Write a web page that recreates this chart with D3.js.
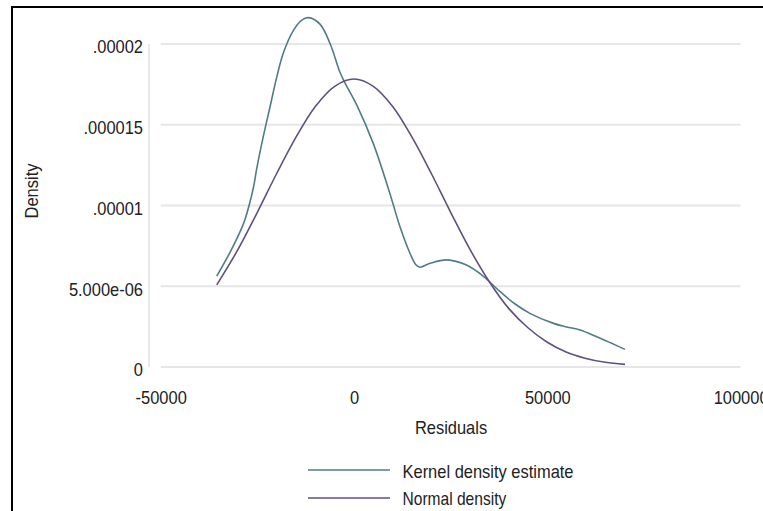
<!DOCTYPE html>
<html>
<head>
<meta charset="utf-8">
<script src="https://cdn.jsdelivr.net/npm/d3@7"></script>
<style>
  html, body { margin: 0; padding: 0; background: #fff; }
  svg { display: block; }
  text { font-family: "Liberation Sans", Arial, sans-serif; fill: #222; }
</style>
</head>
<body>
<svg id="chart" width="763" height="511"></svg>
<script>
// Residuals (x) and estimated density (y)
const kernelX = [-35500, -32000, -29000, -28200, -26000, -25200, -23500, -21700, -20000, -18300,
                 -15700, -13500, -11800, -8800, -6200, -3600, -2300, 700, 5000, 9300,
                 11900, 14500, 16000, 17100, 19700, 24000, 29100, 33400, 37800, 41500,
                 45500, 51600, 55000, 58500, 62800, 66500, 70100];
const kernelY = [5.6e-6, 7.1e-6, 8.6e-6, 9.1e-6, 1.11e-5, 1.22e-5, 1.42e-5, 1.61e-5, 1.79e-5, 1.94e-5,
                 2.08e-5, 2.145e-5, 2.16e-5, 2.12e-5, 2.0e-5, 1.82e-5, 1.755e-5, 1.62e-5, 1.38e-5, 1.07e-5,
                 8.65e-6, 7.0e-6, 6.3e-6, 6.15e-6, 6.39e-6, 6.6e-6, 6.28e-6, 5.6e-6, 4.63e-6, 3.9e-6,
                 3.29e-6, 2.67e-6, 2.45e-6, 2.26e-6, 1.84e-6, 1.45e-6, 1.06e-6];

const normalX = [-35500, -30000, -25000, -20000, -15000, -10000, -5000, 0, 5000, 10000, 15000,
                 20000, 25000, 30000, 35000, 40000, 45000, 50000, 55000, 60000, 65000, 70100];
const normalY = [5.05e-6, 7.25e-6, 9.55e-6, 1.195e-5, 1.42e-5, 1.61e-5, 1.735e-5, 1.78e-5, 1.735e-5, 1.61e-5, 1.42e-5,
                 1.195e-5, 9.55e-6, 7.25e-6, 5.25e-6, 3.6e-6, 2.4e-6, 1.5e-6, 8.8e-7, 5e-7, 2.6e-7, 1.3e-7];

const xTickValues = [-50000, 0, 50000, 100000];
const xTickLabels = ["-50000", "0", "50000", "100000"];
const yTickValues = [0, 5e-6, 1e-5, 1.5e-5, 2e-5];
const yTickLabels = ["0", "5.000e-06", ".00001", ".000015", ".00002"];

const seriesNames = ["Kernel density estimate", "Normal density"];
const seriesColors = ["#4f7d86", "#5f5080"];

const FONT = 18.5;      // glyph height
const SQUEEZE = 0.89;   // horizontal condensing of labels

const svg = d3.select("#chart");

const x = d3.scaleLinear().domain([-50000, 100000]).range([160.7, 740.6]);
const y = d3.scaleLinear().domain([0, 2e-5]).range([366.5, 43.5]);

// turn x/y placement into a transform so the glyphs can be condensed
function condense(sel, extra = "") {
  sel.each(function () {
    const t = d3.select(this);
    const tx = +t.attr("x") || 0, ty = +t.attr("y") || 0;
    t.attr("x", null).attr("y", null)
     .attr("transform", `translate(${tx},${ty}) ${extra} scale(${SQUEEZE},1)`);
  });
}

// outer frame
svg.append("rect")
  .attr("x", 12).attr("y", 7)
  .attr("width", 800).attr("height", 600)
  .attr("fill", "none").attr("stroke", "#000").attr("stroke-width", 2);

// horizontal grid lines
const grid = svg.append("g")
  .attr("transform", `translate(${x.range()[0]},0)`)
  .call(d3.axisLeft(y).tickValues(yTickValues)
        .tickSize(-(x.range()[1] - x.range()[0])).tickFormat(""));
grid.select(".domain").remove();
grid.selectAll(".tick line").attr("stroke", "#e6e6e6").attr("stroke-width", 2);

// y axis
const yAxis = svg.append("g")
  .attr("transform", "translate(148.5,0)")
  .call(d3.axisLeft(y).tickValues(yTickValues)
        .tickFormat((d, i) => yTickLabels[i]).tickSize(0).tickSizeOuter(0).tickPadding(5.5));
yAxis.attr("font-family", null);
yAxis.select(".domain").attr("stroke", "#dcdcdc").attr("stroke-width", 1.2);
yAxis.selectAll(".tick text")
  .attr("font-size", FONT).attr("fill", "#222").attr("dy", "0.5em")
  .call(condense);

// x axis
const xAxis = svg.append("g")
  .attr("transform", `translate(0,${y(0)})`)
  .call(d3.axisBottom(x).tickValues(xTickValues)
        .tickFormat((d, i) => xTickLabels[i]).tickSize(0).tickPadding(24.5));
xAxis.select(".domain").remove();
xAxis.attr("font-family", null);
xAxis.selectAll(".tick text").attr("font-size", FONT).attr("fill", "#222")
  .call(condense);

// axis titles
svg.append("text")
  .attr("text-anchor", "middle").attr("dominant-baseline", "central")
  .attr("font-size", FONT).text("Density")
  .attr("transform", `translate(32,191) rotate(-90) scale(${SQUEEZE},1)`);
svg.append("text")
  .attr("x", 451).attr("y", 428)
  .attr("text-anchor", "middle").attr("dominant-baseline", "central")
  .attr("font-size", FONT).text("Residuals")
  .call(condense);

// curves
const line = d3.line()
  .x(d => x(d[0])).y(d => y(d[1]))
  .curve(d3.curveCatmullRom.alpha(0.5));

const kernelPts = kernelX.map((v, i) => [v, kernelY[i]]);
const normalPts = normalX.map((v, i) => [v, normalY[i]]);

svg.append("path").datum(kernelPts)
  .attr("d", line).attr("fill", "none")
  .attr("stroke", seriesColors[0]).attr("stroke-width", 1.6);
svg.append("path").datum(normalPts)
  .attr("d", line).attr("fill", "none")
  .attr("stroke", seriesColors[1]).attr("stroke-width", 1.6);

// legend
const legendY = [470, 498];
const legend = svg.append("g");
seriesNames.forEach((name, i) => {
  legend.append("line")
    .attr("x1", 308).attr("x2", 390)
    .attr("y1", legendY[i]).attr("y2", legendY[i])
    .attr("stroke", seriesColors[i]).attr("stroke-width", 2.2).attr("stroke-opacity", 0.75);
  legend.append("text")
    .attr("x", 402.5).attr("y", legendY[i] + 1.5)
    .attr("dominant-baseline", "central")
    .attr("font-size", i === 1 ? FONT - 1 : FONT).text(name)
    .call(condense);
});
</script>
</body>
</html>
